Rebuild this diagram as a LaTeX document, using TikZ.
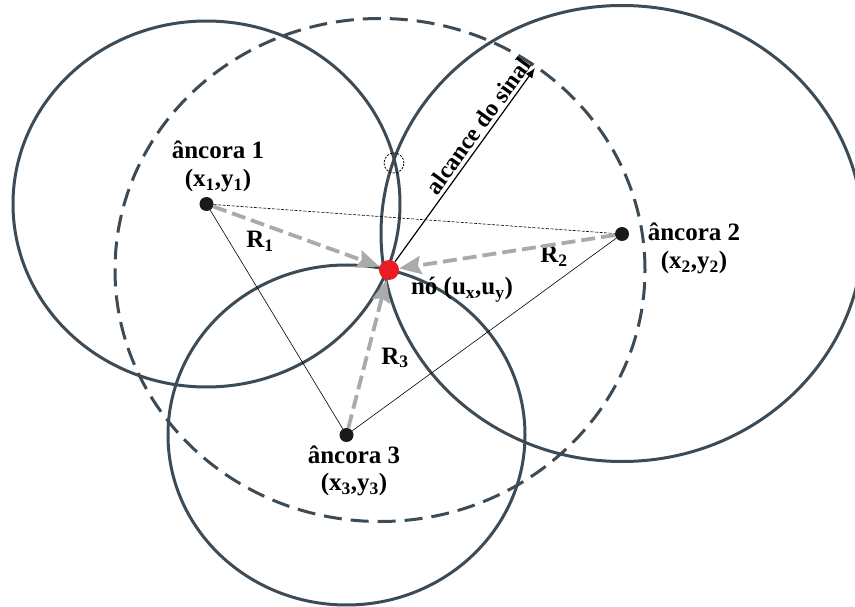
\documentclass[tikz,border=0pt]{standalone}
\usepackage{fontspec}
\setmainfont{Liberation Serif}
\usepackage{xcolor}
\definecolor{ringgrey}{RGB}{60,75,85}
\definecolor{arrgrey}{RGB}{170,170,170}
\definecolor{nodered}{RGB}{237,28,36}
\usepackage{tikz}
\usetikzlibrary{arrows.meta,positioning}
\tikzset{
  ring/.style={draw=ringgrey, line width=3pt},
  rangering/.style={draw=ringgrey, line width=3pt, dash pattern=on 18pt off 9pt},
  anc/.style={circle, fill=black!90, minimum size=14pt, inner sep=0pt},
  target/.style={circle, fill=nodered, minimum size=20pt, inner sep=0pt},
  lbl/.style={font=\fontsize{25}{27}\selectfont\bfseries, inner sep=0pt},
  dist/.style={-{Stealth[length=22pt,width=18pt,inset=3pt]}, draw=arrgrey, line width=3.8pt, dash pattern=on 14pt off 6pt},
  base/.style={draw=black, line width=0.6pt},
  reach/.style={-{Latex[length=10pt,width=8pt]}, line width=1.2pt},
  spot/.style={draw=black, line width=0.8pt, dash pattern=on 2pt off 1.5pt}
}

\begin{document}
\begin{tikzpicture}[x=1pt, y=-1pt, node distance=0pt]
  \useasboundingbox (0,0) rectangle (855,607);
  \clip (0,0) rectangle (855,607);
  % anchors
  \node[anc] (a1) at (206.5,204) {};
  \node[anc] (a2) at (622,234) {};
  \node[anc] (a3) at (346.5,435) {};
  \coordinate (rc) at (380,270);
  % ranges of the anchors and of the node
  \draw[ring] (206.5,204) ellipse [x radius=193.5pt, y radius=183pt];
  \draw[ring] (622,233.5) ellipse [x radius=241pt, y radius=228pt];
  \draw[ring] (346.5,435) ellipse [x radius=178.5pt, y radius=170pt];
  \draw[rangering] (rc) ellipse [x radius=265pt, y radius=251.5pt];
  \draw[spot] (394,163) circle [radius=10pt];
  % unknown node
  \node[target] (nd) at (389,270) {};
  % labels
  \node[lbl] (l1) at (218,150) {âncora 1};
  \node[lbl, below=10pt of l1] (c1) {(x\textsubscript{1},y\textsubscript{1})};
  \node[lbl] (l2) at (694,232) {âncora 2};
  \node[lbl, below=10pt of l2] (c2) {(x\textsubscript{2},y\textsubscript{2})};
  \node[lbl] (l3) at (354,455) {âncora 3};
  \node[lbl, below=9pt of l3] (c3) {(x\textsubscript{3},y\textsubscript{3})};
  \node[lbl] (lnd) at (462,290) {nó (u\textsubscript{x},u\textsubscript{y})};
  \node[lbl] (r1) at (260,241) {R\textsubscript{1}};
  \node[lbl] (r2) at (554,256) {R\textsubscript{2}};
  \node[lbl] (r3) at (395,358) {R\textsubscript{3}};
  % triangle of anchors
  \draw[base, dash pattern=on 3pt off 1.5pt] (a1) -- (a2);
  \draw[base] (a1) -- (a3);
  \draw[base] (a3) -- (a2);
  % distances
  \draw[dist] (a1) -- (nd);
  \draw[dist] (a2) -- (nd);
  \draw[dist] (a3) -- (nd);
  % signal range
  \coordinate (edge) at (535,68);
  \draw[reach] (nd) -- node[lbl, sloped, above, pos=0.665, inner sep=3pt, font=\fontsize{24}{26}\selectfont\bfseries] (reachlbl) {alcance do sinal} (edge);
\end{tikzpicture}
\end{document}
